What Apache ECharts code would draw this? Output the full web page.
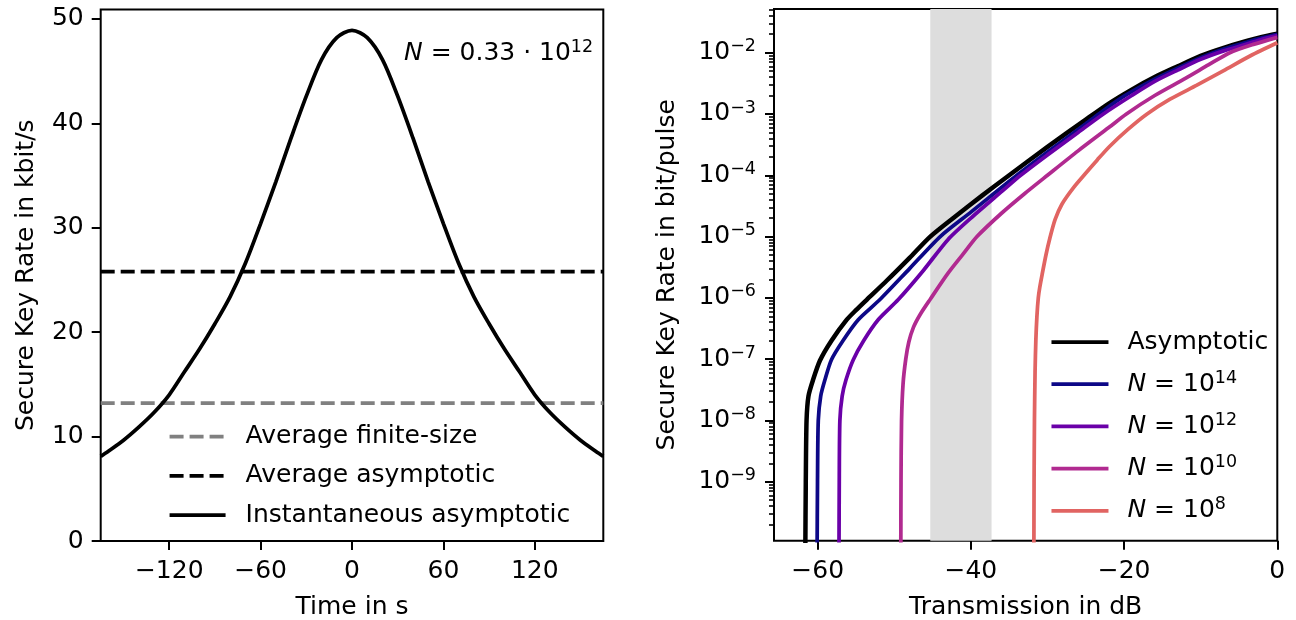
<!DOCTYPE html>
<html><head><meta charset="utf-8">
<script src="https://cdn.jsdelivr.net/npm/echarts@6/dist/echarts.min.js"></script>
<style>html,body{margin:0;padding:0;background:#fff}#c{width:1296px;height:620px}</style>
</head><body><div id="c"></div>
<script>
// ---------- Left panel data ----------
const timeS = [-165,-160,-150,-140,-130,-120,-110,-100,-90,-80,-70,-60,-50,-40,-30,-20,-10,0,10,20,30,40,50,60,70,80,90,100,110,120,130,140,150,160,165];
const instRate = [8.1,8.6,9.65,10.9,12.3,14.0,16.2,18.4,20.8,23.4,26.6,30.4,34.4,38.6,42.6,46.1,48.2,48.9,48.2,46.1,42.6,38.6,34.4,30.4,26.6,23.4,20.8,18.4,16.2,14.0,12.3,10.9,9.65,8.6,8.1];
const avgFiniteSize = 13.2;
const avgAsymptotic = 25.8;
const timeTicks = [-120,-60,0,60,120];
const rateTicks = [0,10,20,30,40,50];

// ---------- Right panel data ----------
const asymDb  = [-61.62,-61.55,-61.45,-61.2,-60.6,-59.7,-58.2,-56.2,-55,-53.6,-51,-48,-45.3,-42,-38.5,-35,-30,-25,-22,-19,-16,-13,-10,-7,-4,-2,0];
const asymVal = [5e-11,1e-9,1e-8,2.5e-8,4.6e-8,9.5e-8,2.0e-7,4.4e-7,6.3e-7,9.3e-7,1.9e-6,4.5e-6,1e-5,2.15e-5,4.7e-5,1e-4,2.9e-4,8.1e-4,1.48e-3,2.5e-3,4.0e-3,6.0e-3,8.9e-3,1.2e-2,1.55e-2,1.8e-2,2.04e-2];
const n14Db  = [-60.08,-60.02,-59.92,-59.6,-59.05,-58.2,-56.7,-54.7,-51.9,-48,-44,-40,-34,-30,-25,-23.3,-20,-16,-13,-10,-7,-4,-2,0];
const n14Val = [5e-11,1e-9,1e-8,2.5e-8,4.6e-8,9.8e-8,2.0e-7,4.4e-7,9.3e-7,3.0e-6,1e-5,2.5e-5,1e-4,2.4e-4,6.9e-4,1e-3,1.95e-3,3.7e-3,5.6e-3,8.3e-3,1.15e-2,1.48e-2,1.74e-2,2.0e-2];
const n12Db  = [-57.22,-57.18,-57.1,-56.8,-56.3,-55.35,-54.0,-52.1,-49.5,-46.2,-43,-40,-36,-33.5,-30,-26,-22.7,-19,-16,-13,-10,-7,-4,-2,0];
const n12Val = [5e-11,1e-9,1e-8,2.5e-8,4.6e-8,9.8e-8,2.0e-7,4.4e-7,9.3e-7,2.8e-6,8.9e-6,2.0e-5,5.4e-5,1e-4,2.15e-4,5.0e-4,1e-3,2.0e-3,3.4e-3,5.2e-3,7.8e-3,1.07e-2,1.38e-2,1.66e-2,1.9e-2];
const n10Db  = [-49.15,-49.12,-49.05,-48.85,-48.5,-48.1,-47.5,-46.6,-45.3,-43,-41,-39.2,-36,-33,-30,-26,-22,-19.7,-16,-12,-9,-6.2,-3,0];
const n10Val = [5e-11,1e-9,1e-8,4e-8,1e-7,1.9e-7,3.3e-7,5.4e-7,9.5e-7,2.5e-6,5.2e-6,1e-5,2.4e-5,5.0e-5,1e-4,2.5e-4,6.0e-4,1e-3,2.0e-3,3.8e-3,6.3e-3,1e-2,1.38e-2,1.78e-2];
const n8Db  = [-31.78,-31.75,-31.7,-31.62,-31.52,-31.38,-31.2,-31.0,-30.7,-30.2,-29.7,-29.0,-28.1,-26.6,-25.1,-23.5,-21.9,-19.5,-17,-14,-10.5,-7,-3.5,0];
const n8Val = [5e-11,1e-9,1e-8,6.3e-8,2.0e-7,5.0e-7,1e-6,1.5e-6,2.4e-6,5.0e-6,9.3e-6,1.9e-5,3.4e-5,6.3e-5,1.05e-4,1.78e-4,2.95e-4,5.6e-4,1e-3,1.74e-3,2.95e-3,5.1e-3,8.9e-3,1.45e-2];
const bandDb = [-45.3, -37.3];
const dbTicks = [-60,-40,-20,0];
const logTicks = [1e-9,1e-8,1e-7,1e-6,1e-5,1e-4,1e-3,1e-2];

const rightNames = ['Asymptotic','N = 10^14','N = 10^12','N = 10^10','N = 10^8'];
const rightColors = ['#000000','#0d0887','#6a00a8','#b12a90','#e16462'];

const FONT = 'DejaVu Sans';
const pair = (xs, ys) => xs.map((x, i) => [x, ys[i]]);
const minorTicks = [];
for (let e = -10; e <= -2; e++) for (let k = 2; k <= 9; k++) minorTicks.push(k * Math.pow(10, e));
const yMinR = 1.09e-10, yMaxR = 5.16e-2;
const minorIn = minorTicks.filter(v => v > yMinR && v < yMaxR);

const minus = v => (v < 0 ? '\u2212' + (-v) : String(v));
const supRich = {
  b: {fontSize: 25, fontFamily: FONT, color: '#000', fontWeight: 'normal'},
  s: {fontSize: 17.5, fontFamily: FONT, color: '#000', fontWeight: 'normal', verticalAlign: 'top', padding: [0,0,12,0]},
  i: {fontSize: 25, fontFamily: FONT, color: '#000', fontWeight: 'normal', fontStyle: 'italic'}
};

const chart = echarts.init(document.getElementById('c'), null, {renderer: 'canvas'});
const axisCommon = {
  axisLine: {show: false, onZero: false},
  splitLine: {show: false},
  axisTick: {show: true, length: 9, lineStyle: {color: '#000', width: 2}},
  axisLabel: {color: '#000', fontSize: 25, fontFamily: FONT},
  nameTextStyle: {color: '#000', fontSize: 25, fontFamily: FONT}
};

const leftSeries = [
  {name: 'Average finite-size', type: 'line', xAxisIndex: 0, yAxisIndex: 0, symbol: 'none',
   data: [[-165, avgFiniteSize], [165, avgFiniteSize]],
   lineStyle: {color: '#808080', width: 3.75, type: [14, 6]}, itemStyle: {color: '#808080'}},
  {name: 'Average asymptotic', type: 'line', xAxisIndex: 0, yAxisIndex: 0, symbol: 'none',
   data: [[-165, avgAsymptotic], [165, avgAsymptotic]],
   lineStyle: {color: '#000', width: 3.75, type: [14, 6]}, itemStyle: {color: '#000'}},
  {name: 'Instantaneous asymptotic', type: 'line', xAxisIndex: 0, yAxisIndex: 0, symbol: 'none', smooth: 0.3,
   data: pair(timeS, instRate),
   lineStyle: {color: '#000', width: 3.75}, itemStyle: {color: '#000'}}
];
const rightData = [pair(asymDb, asymVal), pair(n14Db, n14Val), pair(n12Db, n12Val), pair(n10Db, n10Val), pair(n8Db, n8Val)];
const rightSeries = rightData.map((d, i) => ({
  name: rightNames[i], type: 'line', xAxisIndex: 1, yAxisIndex: 1, symbol: 'none',
  smooth: 0.25, data: d, clip: true,
  lineStyle: {color: rightColors[i], width: i === 0 ? 4.5 : 3.75}, itemStyle: {color: rightColors[i]},
  markArea: i === 0 ? {silent: true, itemStyle: {color: '#dddddd'},
     data: [[{xAxis: bandDb[0]}, {xAxis: bandDb[1]}]]} : undefined
}));

chart.setOption({
  animation: false,
  backgroundColor: '#fff',
  textStyle: {fontFamily: FONT},
  title: {
    text: '{i|N}{b| = 0.33 \u00b7 10}{s|12}',
    left: 404, top: 38, padding: 0,
    textStyle: {fontWeight: 'normal', rich: supRich}
  },
  grid: [
    {left: 100.7, top: 9.5, width: 502.6, height: 531.5, show: true, borderColor: '#000', borderWidth: 2, backgroundColor: 'transparent', outerBoundsMode: 'none'},
    {left: 774, top: 9, width: 503.3, height: 531.7, show: true, borderColor: '#000', borderWidth: 2, backgroundColor: 'transparent', outerBoundsMode: 'none'}
  ],
  xAxis: [
    Object.assign({}, axisCommon, {gridIndex: 0, type: 'value', min: -165, max: 165,
      name: 'Time in s', nameLocation: 'middle', nameGap: 54,
      axisTick: Object.assign({}, axisCommon.axisTick, {customValues: timeTicks}),
      axisLabel: Object.assign({}, axisCommon.axisLabel, {customValues: timeTicks, margin: 18, formatter: minus})}),
    Object.assign({}, axisCommon, {gridIndex: 1, type: 'value', min: -65.7, max: 0,
      name: 'Transmission in dB', nameLocation: 'middle', nameGap: 54,
      axisTick: Object.assign({}, axisCommon.axisTick, {customValues: dbTicks}),
      axisLabel: Object.assign({}, axisCommon.axisLabel, {customValues: dbTicks, margin: 18, formatter: minus})})
  ],
  yAxis: [
    Object.assign({}, axisCommon, {gridIndex: 0, type: 'value', min: 0, max: 50.9,
      name: 'Secure Key Rate in kbit/s', nameLocation: 'middle', nameGap: 62,
      axisTick: Object.assign({}, axisCommon.axisTick, {customValues: rateTicks}),
      axisLabel: Object.assign({}, axisCommon.axisLabel, {customValues: rateTicks, margin: 17})}),
    Object.assign({}, axisCommon, {gridIndex: 1, type: 'log', logBase: 10, min: yMinR, max: yMaxR,
      name: 'Secure Key Rate in bit/pulse', nameLocation: 'middle', nameGap: 94,
      axisTick: Object.assign({}, axisCommon.axisTick, {customValues: logTicks}),
      axisLabel: Object.assign({}, axisCommon.axisLabel, {customValues: logTicks, margin: 18,
        formatter: v => '{b|10}{s|\u2212' + (-Math.round(Math.log10(v))) + '}', rich: supRich})}),
    {gridIndex: 1, type: 'log', logBase: 10, min: yMinR, max: yMaxR, position: 'left',
      axisLine: {show: false, onZero: false}, splitLine: {show: false}, axisLabel: {show: false},
      axisTick: {show: true, length: 5, lineStyle: {color: '#000', width: 1.6}, customValues: minorIn}}
  ],
  legend: [
    {orient: 'vertical', padding: 0, itemStyle: {opacity: 0}, lineStyle: {width: 3.75},
     data: ['Average finite-size','Average asymptotic','Instantaneous asymptotic'],
     left: 167.7, top: 424, itemWidth: 56, itemHeight: 25, itemGap: 14.3,
     textStyle: {fontSize: 25, fontFamily: FONT, color: '#000', padding: [0,0,0,15], lineHeight: 25}},
    {orient: 'vertical', padding: 0, itemStyle: {opacity: 0}, lineStyle: {width: 3.75},
     data: rightNames, left: 1049.6, top: 327, itemWidth: 57, itemHeight: 30, itemGap: 12.2,
     formatter: name => {
       if (name.indexOf('^') < 0) return '{b|' + name + '}';
       const e = name.split('^')[1];
       return '{i|N}{b| = 10}{s|' + e + '}';
     },
     textStyle: {fontSize: 25, fontFamily: FONT, color: '#000', padding: [0,0,0,14], lineHeight: 30, rich: supRich}}
  ],
  series: leftSeries.concat(rightSeries)
});
</script></body></html>
